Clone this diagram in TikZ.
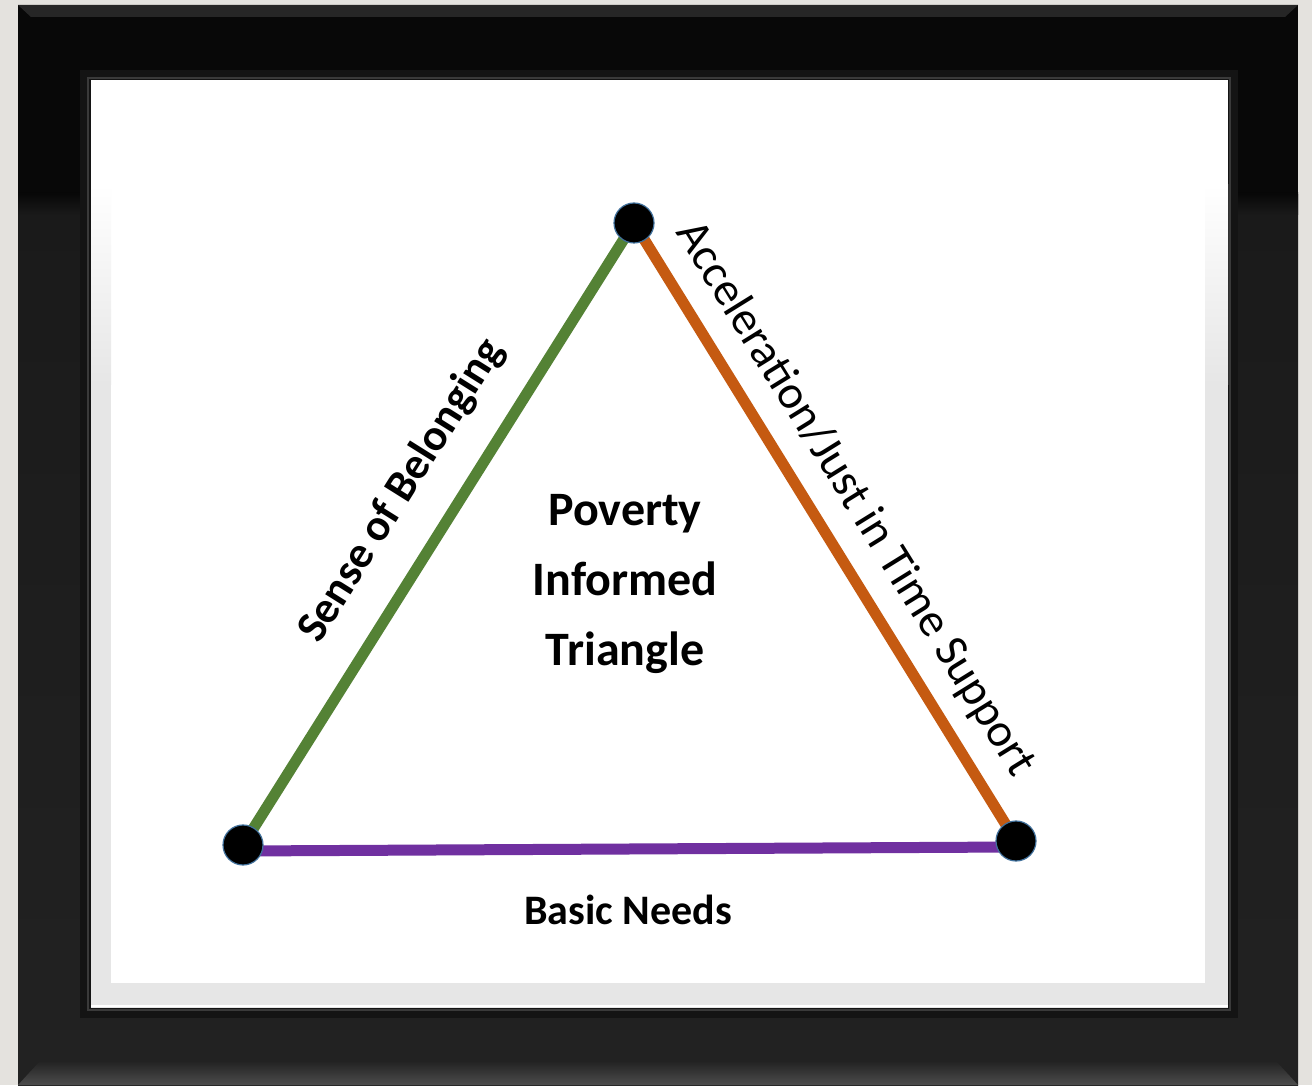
\documentclass[tikz,border=0pt]{standalone}
\usepackage{fontspec}
\setmainfont{Carlito}
\definecolor{bgc}{HTML}{E4E2DE}
\definecolor{framelow}{HTML}{1A1A1A}
\definecolor{framebot}{HTML}{222222}
\definecolor{bevel}{HTML}{141414}
\definecolor{bevelhi}{HTML}{3A3A3A}
\definecolor{matgray}{HTML}{E6E6E6}
\definecolor{edgegreen}{HTML}{548235}
\definecolor{edgeorange}{HTML}{C55A11}
\definecolor{edgepurple}{HTML}{7030A0}
\definecolor{dotline}{HTML}{41719C}
\tikzset{
  dotnode/.style={circle, fill=black, draw=dotline, line width=1.2pt, minimum size=40pt, inner sep=0pt},
  edgeline/.style={line width=11pt},
  bigtext/.style={font=\bfseries\fontsize{48}{70}\selectfont, align=center},
}
\begin{document}
\begin{tikzpicture}[x=1pt,y=1pt]
\useasboundingbox (0,0) rectangle (1312,1085);
% background
\fill[bgc] (0,0) rectangle (1312,1085);
% frame
\shade[top color=framelow, bottom color=framebot] (18,0) rectangle (1298,890);
\fill[black!97] (18,890) rectangle (1298,1080);
\shade[top color=black!97, bottom color=framelow] (18,870) rectangle (1298,892);
% outer top highlight
\fill[black!85] (18,1080) -- (1298,1080) -- (1285,1068) -- (31,1068) -- cycle;
% outer bottom bevel
\shade[top color=framebot, bottom color=black!70] (18,0) -- (1298,0) -- (1276,24) -- (40,24) -- cycle;
% inner bevel
\fill[bevel] (80,67) rectangle (1238,1015);
\draw[bevelhi, line width=1.5pt] (88,75) rectangle (1230,1007);
% opening / mat
\fill[matgray] (91,77) rectangle (1228,1005);
\fill[white] (111,102) rectangle (1205,1005);
\fill[white] (91,900) rectangle (1228,1005);
\shade[top color=white, bottom color=matgray] (91,700) rectangle (111,900);
\shade[top color=white, bottom color=matgray] (1205,700) rectangle (1228,900);
\draw[white, line width=2pt] (91,79) -- (1228,79);
% triangle
\coordinate (T) at (634,862);
\coordinate (L) at (243,240);
\coordinate (R) at (1016,244);
\draw[edgeline, edgegreen] (L) -- (T);
\draw[edgeline, edgeorange] (T) -- (R);
\draw[edgeline, edgepurple] ([yshift=-6pt]L) -- ([yshift=-6pt]R);
\node[dotnode] (Tdot) at (T) {};
\node[dotnode] (Ldot) at (L) {};
\node[dotnode] (Rdot) at (R) {};
% labels
\node[bigtext] (title) at (625,501) {Poverty\\Informed\\Triangle};
\node[font=\bfseries\fontsize{42}{48}\selectfont] (basic) at (628,175) {Basic Needs};
\node[font=\bfseries\fontsize{44.5}{50}\selectfont, rotate=57.9] (sense) at (402,594) {Sense of Belonging};
\node[font=\fontsize{47}{52}\selectfont, rotate=-58.2] (accel) at (855,586) {Acceleration/Just in Time Support};
\end{tikzpicture}
\end{document}
